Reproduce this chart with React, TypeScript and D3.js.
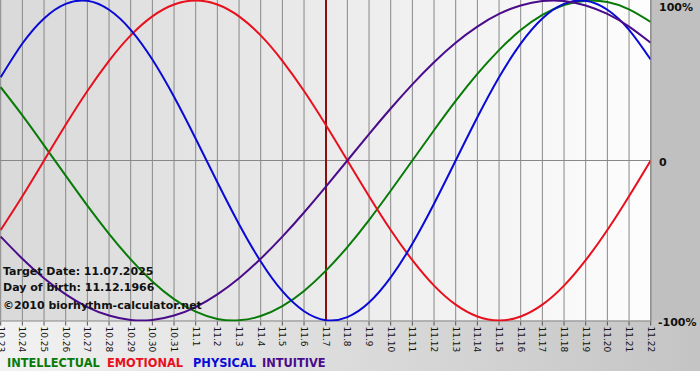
import React from 'react';
import * as d3 from 'd3';

const dates = ['10.23','10.24','10.25','10.26','10.27','10.28','10.29','10.30','10.31','11.1','11.2','11.3','11.4','11.5','11.6','11.7','11.8','11.9','11.10','11.11','11.12','11.13','11.14','11.15','11.16','11.17','11.18','11.19','11.20','11.21','11.22'];
const targetDate = '11.7';

const intellectual = [0.458,0.282,0.095,-0.095,-0.282,-0.458,-0.618,-0.756,-0.866,-0.945,-0.990,-0.999,-0.972,-0.910,-0.815,-0.690,-0.541,-0.372,-0.189,0,0.189,0.372,0.541,0.690,0.815,0.910,0.972,0.999,0.990,0.945,0.866];
const emotional = [-0.434,-0.223,0,0.223,0.434,0.623,0.782,0.901,0.975,1,0.975,0.901,0.782,0.623,0.434,0.223,0,-0.223,-0.434,-0.623,-0.782,-0.901,-0.975,-1,-0.975,-0.901,-0.782,-0.623,-0.434,-0.223,0];
const physical = [0.520,0.731,0.888,0.979,0.998,0.942,0.817,0.631,0.398,0.136,-0.136,-0.398,-0.631,-0.817,-0.942,-0.998,-0.979,-0.888,-0.731,-0.520,-0.270,0,0.270,0.520,0.731,0.888,0.979,0.998,0.942,0.817,0.631];
const intuitive = [-0.476,-0.614,-0.736,-0.837,-0.916,-0.969,-0.997,-0.997,-0.969,-0.916,-0.837,-0.736,-0.614,-0.476,-0.325,-0.165,0,0.165,0.325,0.476,0.614,0.736,0.837,0.916,0.969,0.997,0.997,0.969,0.916,0.837,0.736];

const seriesNames = ['INTELLECTUAL','EMOTIONAL','PHYSICAL','INTUITIVE'];
const yTickValues = [1, 0, -1];
const yTickLabels = ['100%','0','-100%'];
const infoLines = ['Target Date: 11.07.2025','Day of birth: 11.12.1966','©2010 biorhythm-calculator.net'];

const colors = ['#087a08','#e8101c','#0a0ad6','#4a0c8a'];
const legendX = [7, 107, 193, 262];

export default function App() {
  const L = 0.5, R = 650.5, T = 0.5, B = 320.5;
  const x = d3.scalePoint<string>().domain(dates).range([L + 0.2, R + 0.2]);
  const y = d3.scaleLinear().domain([-1, 1]).range([B, T]);
  const line = d3.line<number>()
    .x((_, i) => x(dates[i]) as number)
    .y(d => y(d))
    .curve(d3.curveNatural);
  const series = [intellectual, emotional, physical, intuitive];
  const font = '"DejaVu Sans", Verdana, sans-serif';
  return (
    <svg width={700} height={380} style={{ position: 'absolute', left: 0, top: 0 }} fontFamily={font}>
      <defs>
        <linearGradient id="plotBg" x1="0" y1="0" x2="1" y2="0">
          <stop offset="0" stopColor="#d9d9d9" />
          <stop offset="1" stopColor="#fdfdfd" />
        </linearGradient>
        <linearGradient id="outerBg" x1="0" y1="0" x2="1" y2="0">
          <stop offset="0" stopColor="#f2f2f2" />
          <stop offset="1" stopColor="#c4c4c4" />
        </linearGradient>
        <clipPath id="plotClip">
          <rect x={0} y={0} width={R} height={B + 1} />
        </clipPath>
      </defs>
      <rect x={0} y={0} width={700} height={371} fill="#c0c0c0" />
      <rect x={0} y={B} width={700} height={371 - B} fill="url(#outerBg)" />
      <rect x={0} y={0} width={R} height={B} fill="url(#plotBg)" />
      {dates.map(d => (
        <line key={'g' + d} x1={x(d)} x2={x(d)} y1={0} y2={B} stroke="#888" strokeWidth={1} />
      ))}
      <line x1={0} x2={R} y1={Math.round(y(0)) - 0.5} y2={Math.round(y(0)) - 0.5} stroke="#888" />
      <line x1={0} x2={R + 1} y1={B + 0.5} y2={B + 0.5} stroke="#888" />
      <line x1={R + 0.5} x2={R + 0.5} y1={0} y2={B + 1} stroke="#8c8c8c" />
      {dates.map(d => (
        <line key={'t' + d} x1={x(d)} x2={x(d)} y1={B + 1} y2={B + 5} stroke="#555" strokeWidth={1} />
      ))}
      <line x1={(x(targetDate) as number) + 0.3} x2={(x(targetDate) as number) + 0.3} y1={0} y2={B} stroke="#8a1010" strokeWidth={2} />
      <g clipPath="url(#plotClip)">
        {series.map((s, k) => (
          <path key={k} d={line(s) || ''} fill="none" stroke={colors[k]} strokeWidth={2} />
        ))}
      </g>
      <g fontSize={11} fontWeight="bold" fill="#111">
        {infoLines.map((t, i) => (
          <text key={t} x={3} y={275 + i * 16 + (i === 2 ? 2 : 0)}>{t}</text>
        ))}
      </g>
      <g fontSize={11} fontWeight="bold" fill="#111">
        {yTickValues.map((v, i) => (
          <text key={v} x={i === 2 ? 658 : 659} y={y(v) + (i === 0 ? 10 : 5)}>{yTickLabels[i]}</text>
        ))}
      </g>
      <g fontSize={9} fill="#111">
        {dates.map(d => (
          <text key={'l' + d} transform={`translate(${(x(d) as number) - 3},${B + 6}) rotate(90)`}>{d}</text>
        ))}
      </g>
      <g fontSize={11.4} fontWeight="bold">
        {seriesNames.map((n, i) => (
          <text key={n} x={legendX[i]} y={367} fill={colors[i]}>{n}</text>
        ))}
      </g>
    </svg>
  );
}
